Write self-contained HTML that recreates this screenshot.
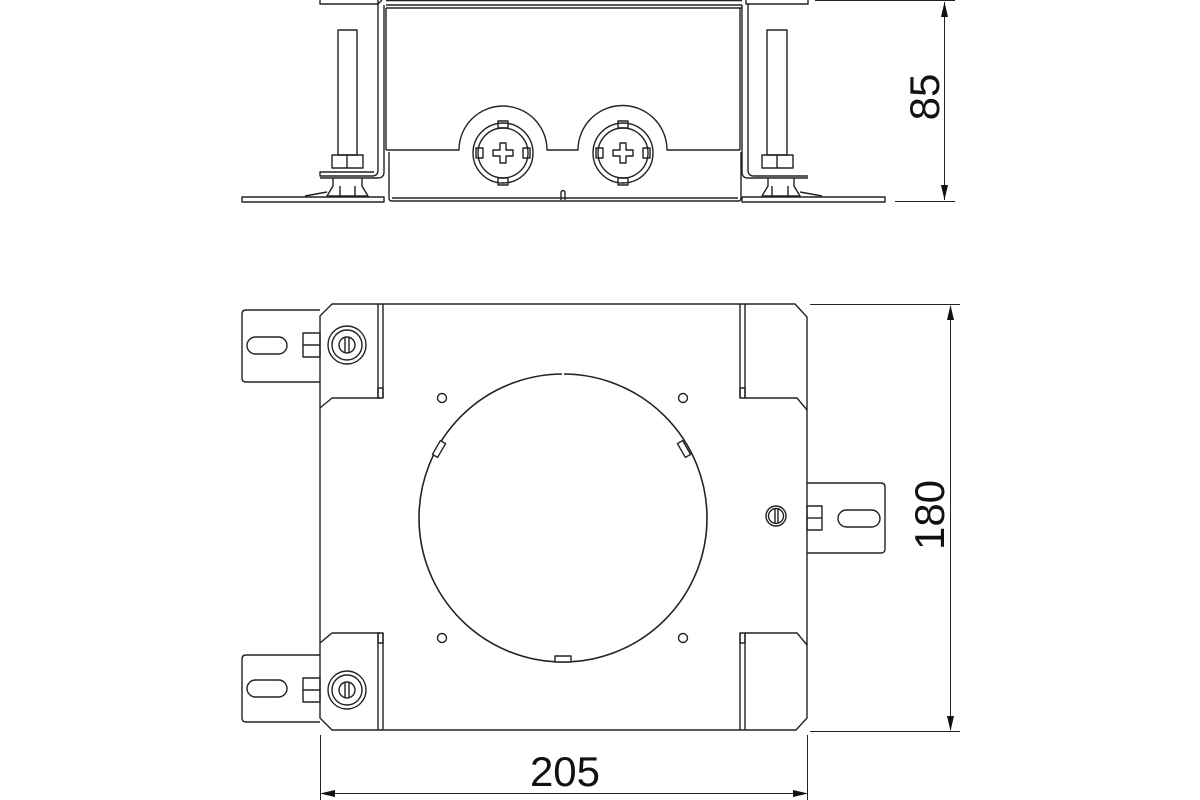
<!DOCTYPE html>
<html><head><meta charset="utf-8"><style>
html,body{margin:0;padding:0;background:#fff;}
svg{display:block}
text{font-family:"Liberation Sans",sans-serif;fill:#111}
</style></head><body>
<svg width="1200" height="800" viewBox="0 0 1200 800" xmlns="http://www.w3.org/2000/svg">
<g fill="none" stroke="#222" stroke-width="1.4" stroke-linejoin="round">
<!-- ============ TOP (SIDE) VIEW ============ -->
<rect x="320" y="-2" width="58" height="6"/>
<rect x="746" y="-2" width="62" height="6"/>
<line x1="386" y1="0.5" x2="742" y2="0.5"/>
<line x1="386" y1="5" x2="742" y2="5"/>
<line x1="386" y1="8" x2="742" y2="8"/>
<path d="M378 4 L378 170 Q378 176 372 176 L320 176 L320 172 L374 172 L374 172"/>
<path d="M378 4 L382 0 M384 5 L384 172 Q384 178 378 178 L320 178"/>
<line x1="386" y1="8" x2="386" y2="150"/>
<path d="M748 4 L748 170 Q748 176 754 176 L808 176"/>
<path d="M742 5 L742 172 Q742 178 748 178 L808 178"/>
<line x1="740" y1="8" x2="740" y2="150"/>
<path d="M386 150 L459 150 A44 44 0 0 1 547 150 L578 150 A44 44 0 0 1 667 150 L740 150"/>
<path d="M389 152 L389 198 Q389 201 392 201 L738 201 Q741 201 741 198 L741 152"/>
<line x1="392" y1="198" x2="738" y2="198"/>
<path d="M561 200 L561 192 Q563 189 565 192 L565 200"/>
<g>
<circle cx="503" cy="153" r="30"/><circle cx="503" cy="153" r="25"/>
<rect x="498" y="121" width="10" height="7"/><rect x="498" y="178" width="10" height="7"/>
<rect x="476" y="148" width="7" height="10"/><rect x="523" y="148" width="7" height="10"/>
<path d="M500 143 h6 v7 h7 v6 h-7 v7 h-6 v-7 h-7 v-6 h7 z"/>
<circle cx="623" cy="153" r="30"/><circle cx="623" cy="153" r="25"/>
<rect x="618" y="121" width="10" height="7"/><rect x="618" y="178" width="10" height="7"/>
<rect x="596" y="148" width="7" height="10"/><rect x="643" y="148" width="7" height="10"/>
<path d="M620 143 h6 v7 h7 v6 h-7 v7 h-6 v-7 h-7 v-6 h7 z"/>
</g>
<rect x="242" y="197" width="142" height="5"/>
<rect x="742" y="197" width="143" height="5"/>
<rect x="338" y="30" width="19" height="125"/>
<rect x="332" y="155" width="31" height="13"/>
<line x1="347" y1="155" x2="347" y2="168"/>
<path d="M333 178 L333 186 L327 196 L368 196 L362 186 L362 178"/>
<line x1="340" y1="186" x2="340" y2="196"/><line x1="355" y1="186" x2="355" y2="196"/>
<path d="M305 196 L327 192"/>
<rect x="767" y="30" width="20" height="125"/>
<rect x="762" y="155" width="31" height="13"/>
<line x1="777" y1="155" x2="777" y2="168"/>
<path d="M768 178 L768 186 L762 196 L800 196 L794 186 L794 178"/>
<line x1="772" y1="186" x2="772" y2="196"/><line x1="788" y1="186" x2="788" y2="196"/>
<path d="M800 192 L822 196"/>

<!-- ============ PLAN VIEW ============ -->
<path d="M332 304 L795 304 L807 317 L807 718 L796 730 L332 730 L320 718 L320 316 Z"/>
<path d="M320 408 L332 398 L380 398"/>
<path d="M320 643 L332 633 L380 633"/>
<path d="M807 410 L797 398 L745 398"/>
<path d="M807 645 L797 633 L745 633"/>
<line x1="378" y1="304" x2="378" y2="398"/><line x1="383" y1="304" x2="383" y2="398"/>
<rect x="378" y="388" width="5" height="10"/>
<line x1="378" y1="633" x2="378" y2="730"/><line x1="383" y1="633" x2="383" y2="730"/>
<rect x="378" y="633" width="5" height="10"/>
<line x1="740" y1="304" x2="740" y2="398"/><line x1="745" y1="304" x2="745" y2="398"/>
<rect x="740" y="388" width="5" height="10"/>
<line x1="740" y1="633" x2="740" y2="730"/><line x1="745" y1="633" x2="745" y2="730"/>
<rect x="740" y="633" width="5" height="10"/>
<path d="M320 310 L246 310 Q242 310 242 314 L242 378 Q242 382 246 382 L320 382"/>
<rect x="247" y="337" width="40" height="17" rx="8.5"/>
<rect x="303" y="333" width="17" height="24"/>
<line x1="303" y1="345" x2="320" y2="345"/>
<circle cx="347" cy="345" r="19"/><circle cx="347" cy="345" r="15"/><circle cx="347" cy="345" r="8"/>
<line x1="345" y1="337" x2="345" y2="353"/><line x1="349" y1="337" x2="349" y2="353"/>
<path d="M320 655 L246 655 Q242 655 242 659 L242 718 Q242 722 246 722 L320 722"/>
<rect x="247" y="680" width="40" height="17" rx="8.5"/>
<rect x="303" y="678" width="17" height="24"/>
<line x1="303" y1="690" x2="320" y2="690"/>
<circle cx="347" cy="690" r="19"/><circle cx="347" cy="690" r="15"/><circle cx="347" cy="690" r="8"/>
<line x1="345" y1="682" x2="345" y2="698"/><line x1="349" y1="682" x2="349" y2="698"/>
<path d="M807 483 L881 483 Q885 483 885 487 L885 549 Q885 553 881 553 L807 553"/>
<rect x="838" y="510" width="42" height="17" rx="8.5"/>
<rect x="807" y="506" width="15" height="24"/>
<line x1="807" y1="518" x2="822" y2="518"/>
<circle cx="776" cy="516" r="10"/><circle cx="776" cy="516" r="7.5"/>
<line x1="775" y1="509" x2="775" y2="523"/><line x1="778" y1="509" x2="778" y2="523"/>
<circle cx="563" cy="518" r="144" stroke-width="1.6"/>
<rect x="555" y="656" width="16" height="6" fill="#fff"/>
<line x1="563" y1="372" x2="563" y2="377" stroke="#fff" stroke-width="2"/>
<rect x="436" y="441" width="6" height="16" transform="rotate(30 439 449)" fill="#fff"/>
<rect x="681" y="441" width="6" height="16" transform="rotate(-30 684 449)" fill="#fff"/>
<circle cx="442" cy="398" r="4.5"/><circle cx="683" cy="398" r="4.5"/>
<circle cx="442" cy="638" r="4.5"/><circle cx="683" cy="638" r="4.5"/>
</g>

<g stroke="#222" stroke-width="1" fill="none">
<line x1="815" y1="0.5" x2="955" y2="0.5"/>
<line x1="895" y1="201.5" x2="955" y2="201.5"/>
<line x1="944.5" y1="2" x2="944.5" y2="200"/>
<line x1="810" y1="304.5" x2="960" y2="304.5"/>
<line x1="810" y1="731.5" x2="960" y2="731.5"/>
<line x1="950.5" y1="306" x2="950.5" y2="730"/>
<line x1="320.5" y1="735" x2="320.5" y2="800"/>
<line x1="807.5" y1="735" x2="807.5" y2="800"/>
<line x1="322" y1="793.5" x2="806" y2="793.5"/>
</g>
<g fill="#111">
<path d="M944.5 2 L941 17 L948 17 Z"/>
<path d="M944.5 200 L941 185 L948 185 Z"/>
<path d="M950.5 305 L947 320 L954 320 Z"/>
<path d="M950.5 731 L947 716 L954 716 Z"/>
<path d="M320 793.5 L335 790 L335 797 Z"/>
<path d="M808 793.5 L793 790 L793 797 Z"/>
</g>
<text x="0" y="0" font-size="42" text-anchor="middle" transform="translate(939 97) rotate(-90)">85</text>
<text x="0" y="0" font-size="42" text-anchor="middle" transform="translate(944 515) rotate(-90)">180</text>
<text x="565" y="786" font-size="42" text-anchor="middle">205</text>
</svg>
</body></html>
